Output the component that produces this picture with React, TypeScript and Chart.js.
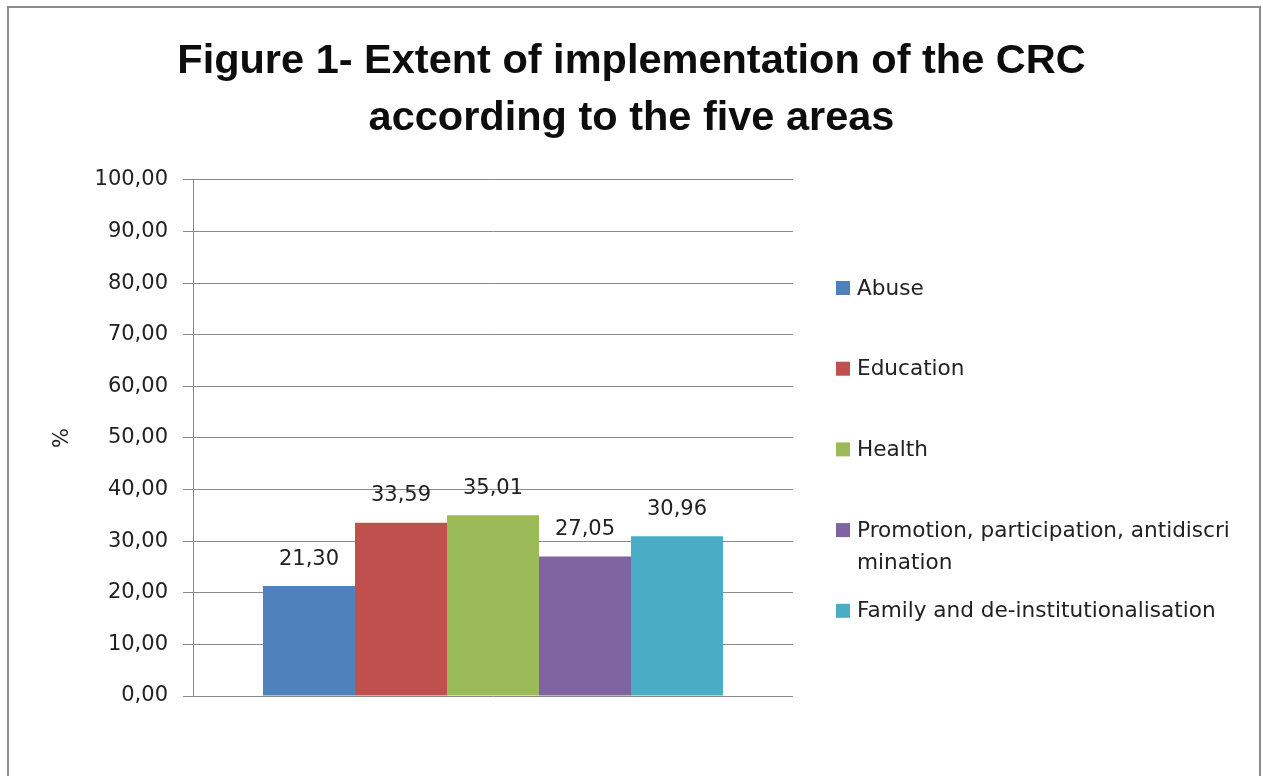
import React, { useEffect, useRef } from "react";
import { Chart, registerables } from "chart.js";

Chart.register(...registerables);

const TITLE_LINES = ["Figure 1- Extent of implementation of the CRC", "according to the five areas"];
const CATEGORIES = [""];
const SERIES_NAMES = [
  "Abuse",
  "Education",
  "Health",
  "Promotion, participation, antidiscrimination",
  "Family and de-institutionalisation",
];
const SERIES_VALUES = [21.3, 33.59, 35.01, 27.05, 30.96];
const SERIES_COLORS = ["#4F81BD", "#C0504D", "#9BBB59", "#8064A2", "#4BACC6"];
const Y_MIN = 0;
const Y_MAX = 100;
const Y_STEP = 10;
const Y_TITLE = "%";

const FONT = "'DejaVu Sans', sans-serif";
const TITLE_FONT = "'Liberation Sans', Arial, sans-serif";
const TEXT_COLOR = "#222222";
const GRID_COLOR = "#8a8a8a";
const LABEL_SIZE = 21;
const LEGEND_SIZE = 21.6;

const fmt = (v: number) => v.toFixed(2).replace(".", ",");

function wrapText(ctx: CanvasRenderingContext2D, text: string, maxW: number): string[] {
  const lines: string[] = [];
  let cur = "";
  for (const ch of text) {
    const t = cur + ch;
    if (ctx.measureText(t).width > maxW && cur.length > 0) {
      lines.push(cur);
      cur = ch === " " ? "" : ch;
    } else {
      cur = t;
    }
  }
  if (cur) lines.push(cur);
  return lines;
}

const framePlugin = {
  id: "frame",
  beforeDraw(chart: any) {
    const ctx = chart.ctx;
    ctx.save();
    ctx.fillStyle = "#ffffff";
    ctx.fillRect(0, 0, chart.width, chart.height);
    ctx.strokeStyle = "#8c8c8c";
    ctx.lineWidth = 2;
    ctx.strokeRect(8, 7, 1252, 820);
    ctx.restore();
  },
};

const valueLabelPlugin = {
  id: "valueLabels",
  afterDatasetsDraw(chart: any) {
    const ctx = chart.ctx;
    ctx.save();
    ctx.font = `${LABEL_SIZE}px ${FONT}`;
    ctx.fillStyle = TEXT_COLOR;
    ctx.textAlign = "center";
    ctx.textBaseline = "middle";
    chart.data.datasets.forEach((ds: any, i: number) => {
      const meta = chart.getDatasetMeta(i);
      meta.data.forEach((el: any, j: number) => {
        ctx.fillText(fmt(ds.data[j]), el.x, el.y - 27);
      });
    });
    ctx.restore();
  },
};

const sideLegendPlugin = {
  id: "sideLegend",
  afterDraw(chart: any) {
    const ctx = chart.ctx;
    ctx.save();
    ctx.font = `${LEGEND_SIZE}px ${FONT}`;
    ctx.textBaseline = "middle";
    ctx.textAlign = "left";
    const boxX = 836;
    const textX = 857;
    const top = 289;
    const step = 80.7;
    chart.data.datasets.forEach((ds: any, i: number) => {
      const y = top + i * step;
      ctx.fillStyle = ds.backgroundColor;
      ctx.fillRect(boxX, y - 8, 14, 14);
      ctx.fillStyle = TEXT_COLOR;
      const lines = wrapText(ctx, ds.label, 392);
      lines.forEach((ln, k) => ctx.fillText(ln, textX, y + k * 32));
    });
    ctx.restore();
  },
};

export default function App() {
  const ref = useRef<HTMLCanvasElement>(null);
  useEffect(() => {
    const canvas = ref.current!;
    const chart = new Chart(canvas, {
      type: "bar",
      data: {
        labels: CATEGORIES,
        datasets: SERIES_NAMES.map((name, i) => ({
          label: name,
          data: [SERIES_VALUES[i]],
          backgroundColor: SERIES_COLORS[i],
          borderWidth: 0,
          categoryPercentage: 0.7667,
          barPercentage: 1,
        })),
      },
      options: {
        responsive: false,
        animation: false,
        devicePixelRatio: 1,
        layout: { padding: { left: 0, right: 0, top: 0, bottom: 80 } },
        plugins: {
          legend: { display: false },
          tooltip: { enabled: false },
          title: {
            display: true,
            text: TITLE_LINES,
            color: "#0d0d0d",
            font: { family: TITLE_FONT, size: 41.5, weight: "bold", lineHeight: 1.373 },
            padding: { top: 33, bottom: 33 },
          },
        },
        scales: {
          x: { display: false },
          y: {
            min: Y_MIN,
            max: Y_MAX,
            ticks: {
              stepSize: Y_STEP,
              callback: (v: any) => fmt(Number(v)),
              color: TEXT_COLOR,
              font: { family: FONT, size: LABEL_SIZE },
              padding: 15,
            },
            grid: { color: GRID_COLOR, lineWidth: 1, tickLength: 10, drawTicks: true },
            border: { display: true, color: GRID_COLOR, width: 1 },
            title: {
              display: true,
              text: Y_TITLE,
              color: TEXT_COLOR,
              font: { family: FONT, size: LABEL_SIZE },
              padding: { top: 50, bottom: 0 },
            },
            afterFit: (s: any) => {
              s.width = 193;
            },
          },
          yRightSpace: {
            position: "right",
            display: true,
            min: Y_MIN,
            max: Y_MAX,
            grid: { display: false, drawTicks: false },
            border: { display: false },
            ticks: { display: false },
            afterFit: (s: any) => {
              s.width = 470;
            },
          },
        },
      },
      plugins: [framePlugin, valueLabelPlugin, sideLegendPlugin],
    } as any);
    return () => chart.destroy();
  }, []);
  return (
    <div style={{ position: "fixed", left: 0, top: 0, width: 1263, height: 776 }}>
      <canvas ref={ref} width={1263} height={776} style={{ display: "block" }} />
    </div>
  );
}
